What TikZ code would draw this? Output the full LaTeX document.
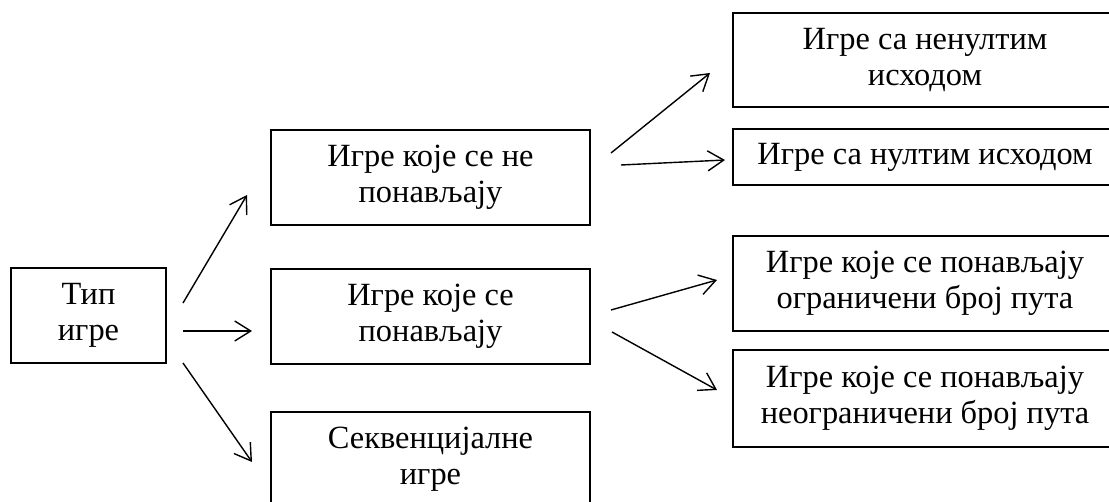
\documentclass[tikz,border=0pt]{standalone}
\usepackage{fontspec}
\setmainfont{Liberation Serif}
\usepackage{tikz}
\usetikzlibrary{arrows.meta,positioning}

\begin{document}
\begin{tikzpicture}[
    x=0.5pt, y=-0.5pt,
    box/.style={rectangle, draw, line width=0.9pt, inner sep=0pt, align=center,
        font=\fontsize{16.2}{17.8}\selectfont},
    arr/.style={-{Straight Barb[length=8pt,width=10pt]}, line width=0.7pt},
    >=Stealth
]
    \useasboundingbox (0,0) rectangle (1109,502);
    \clip (0,0) rectangle (1109,502);

    % Root
    \node[box, minimum width=77.5pt, minimum height=47.5pt] (tip) at (88.5,315.5) {Тип\\игре};

    % Middle column
    \node[box, minimum width=159.5pt, minimum height=47.5pt] (nepon) at (430.5,177.5) {Игре које се не\\понављају};
    \node[box, minimum width=159.5pt, minimum height=47.5pt] (pon) at (430.5,316.5) {Игре које се\\понављају};
    \node[box, minimum width=159.5pt, minimum height=47.5pt] (sekv) at (430.5,459.5) {Секвенцијалне\\игре};

    % Right column
    \node[box, minimum width=192pt, minimum height=47pt] (nenult) at (925,60) {Игре са ненултим\\исходом};
    \node[box, minimum width=192pt, minimum height=28pt] (nult) at (925,157) {Игре са нултим исходом};
    \node[box, minimum width=192pt, minimum height=47.5pt] (ogr) at (925,283.5) {Игре које се понављају\\ограничени број пута};
    \node[box, minimum width=192pt, minimum height=48.5pt] (neogr) at (925,398.5) {Игре које се понављају\\неограничени број пута};

    % Arrow ends
    \coordinate (tipA) at (183,303);
    \coordinate (tipB) at (183,331);
    \coordinate (tipC) at (183,363);
    \coordinate (neponIn) at (247,195);
    \coordinate (ponIn) at (252,331);
    \coordinate (sekvIn) at (252,462);
    \coordinate (neponA) at (611,153);
    \coordinate (neponB) at (621,165);
    \coordinate (nenultIn) at (710,73);
    \coordinate (nultIn) at (725,160);
    \coordinate (ponA) at (611,310);
    \coordinate (ponB) at (612,332);
    \coordinate (ogrIn) at (717,280);
    \coordinate (neogrIn) at (717,390);

    % Arrows
    \draw[arr] (tipA) -- (neponIn);
    \draw[arr] (tipB) -- (ponIn);
    \draw[arr] (tipC) -- (sekvIn);
    \draw[arr] (neponA) -- (nenultIn);
    \draw[arr] (neponB) -- (nultIn);
    \draw[arr] (ponA) -- (ogrIn);
    \draw[arr] (ponB) -- (neogrIn);
\end{tikzpicture}
\end{document}
